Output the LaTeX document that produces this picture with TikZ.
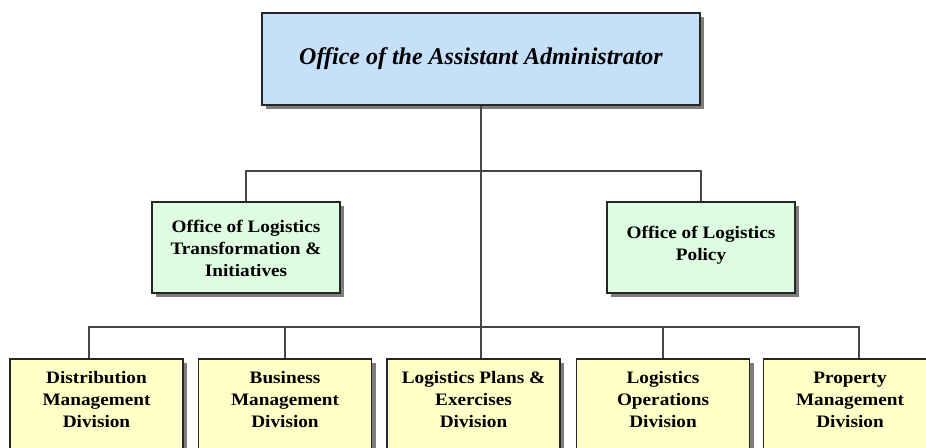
\documentclass[tikz,border=0pt]{standalone}
\usepackage{fontspec}
\setmainfont{Liberation Serif}
\newfontfamily\boxfont[FakeStretch=1.1]{Liberation Serif}
\usetikzlibrary{shadows}
\definecolor{topblue}{RGB}{198,224,250}
\definecolor{midgreen}{RGB}{222,252,224}
\definecolor{lowyellow}{RGB}{255,255,200}
\definecolor{linegray}{RGB}{70,70,70}
\definecolor{shadowgray}{RGB}{125,125,125}
\tikzset{
  orgbox/.style={draw=black!85, line width=1.6pt, inner sep=0pt,
    drop shadow={shadow xshift=4pt, shadow yshift=-4pt, fill=shadowgray, opacity=1}},
  topbox/.style={orgbox, fill=topblue, minimum width=438pt, minimum height=92pt,
    font=\fontsize{24}{28}\selectfont\bfseries\itshape},
  midbox/.style={orgbox, fill=midgreen},
  lowbox/.style={orgbox, fill=lowyellow, anchor=north},
  conn/.style={draw=linegray, line width=1.4pt}
}
\newcommand{\boxtext}[4]{\parbox[t][#2pt][t]{#1pt}{\vspace*{#3pt}\centering\boxfont\fontsize{17.5}{22}\selectfont\bfseries #4}}
\begin{document}
\begin{tikzpicture}[x=1pt,y=-1pt]
\useasboundingbox (0,0) rectangle (926,447);
\clip (0,0) rectangle (926,447);
% nodes
\node[topbox] (aa) at (481,59) {Office of the Assistant Administrator};
\node[midbox] (olt) at (246,247.5) {\boxtext{188}{91}{18.5}{Office of Logistics\\Transformation \&\\Initiatives}};
\node[midbox] (olp) at (701,247.5) {\boxtext{188}{91}{24}{Office of Logistics\\Policy}};
\node[lowbox] (dm) at (96.5,358) {\boxtext{173}{100}{13}{Distribution\\Management\\Division}};
\node[lowbox] (bm) at (285,358) {\boxtext{173}{100}{13}{Business\\Management\\Division}};
\node[lowbox] (lp) at (473.5,358) {\boxtext{173}{100}{13}{Logistics Plans \&\\Exercises\\Division}};
\node[lowbox] (lo) at (663,358) {\boxtext{173}{100}{13}{Logistics\\Operations\\Division}};
\node[lowbox] (pm) at (850,358) {\boxtext{173}{100}{13}{Property\\Management\\Division}};
% connectors
\coordinate (mb) at (0,171);
\coordinate (b1) at (89,327);
\coordinate (b5) at (859,327);
\draw[conn] (aa.south) -- (aa.south |- lp.north);
\draw[conn] (olt.north) -- (olt.north |- mb) -- (olp.north |- mb) -- (olp.north);
\draw[conn] (b1 |- dm.north) -- (b1) -- (b5) -- (b5 |- pm.north);
\draw[conn] (bm.north) -- (bm.north |- b1);
\draw[conn] (lo.north) -- (lo.north |- b1);
\end{tikzpicture}
\end{document}
